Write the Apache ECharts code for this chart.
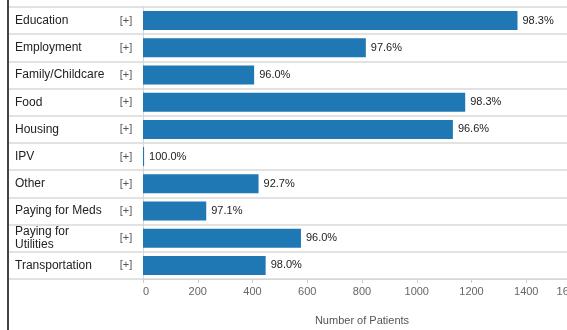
<!DOCTYPE html>
<html>
<head>
<meta charset="utf-8">
<script src="https://cdn.jsdelivr.net/npm/echarts@6/dist/echarts.min.js"></script>
<style>
  html, body { margin: 0; padding: 0; background: #fff; }
  #wrap { position: relative; width: 567px; height: 330px; overflow: hidden; }
  #chart { position: absolute; left: 0; top: 0; width: 567px; height: 330px; }
  #frame { position: absolute; left: 7px; top: 0; width: 2px; height: 330px; background: #444; }
</style>
</head>
<body>
<div id="wrap">
  <div id="chart"></div>
  <div id="frame"></div>
</div>
<script>
const categories = ["Education", "Employment", "Family/Childcare", "Food", "Housing", "IPV", "Other", "Paying for Meds", "Paying for Utilities", "Transportation"];
const patients = [1368, 814, 406, 1177, 1132, 4, 422, 231, 577, 448];
const percentLabels = ["98.3%", "97.6%", "96.0%", "98.3%", "96.6%", "100.0%", "92.7%", "97.1%", "96.0%", "98.0%"];
const xTicks = { min: 0, max: 1600, interval: 200 };
const axisName = "Number of Patients";
const expandMark = "[+]";

const font = "Arial, 'Liberation Sans', sans-serif";
const chart = echarts.init(document.getElementById('chart'), null, { renderer: 'canvas' });

chart.setOption({
  animation: false,
  backgroundColor: '#fff',
  textStyle: { fontFamily: font },
  grid: [
    { left: 143, top: 7, height: 272, width: 438, containLabel: false, outerBoundsMode: 'none' },
    { left: 8, top: 7, height: 272, right: 0, containLabel: false, outerBoundsMode: 'none' }
  ],
  xAxis: [
    {
      gridIndex: 0,
      type: 'value',
      min: xTicks.min, max: xTicks.max, interval: xTicks.interval,
      name: axisName,
      nameLocation: 'middle',
      nameGap: 36,
      nameTextStyle: { color: '#555', fontSize: 11, fontFamily: font },
      axisLine: { show: true, lineStyle: { color: '#d6d6d6', width: 1 } },
      axisTick: { show: true, length: 4, lineStyle: { color: '#ccc' } },
      axisLabel: {
        color: '#666', fontSize: 11, margin: 7, fontFamily: font,
        showMinLabel: true, showMaxLabel: true,
        alignMinLabel: 'left', alignMaxLabel: 'right',
        hideOverlap: false,
        formatter: (v) => String(v)
      },
      splitLine: { show: false }
    },
    {
      gridIndex: 1,
      type: 'value',
      show: false
    }
  ],
  yAxis: [
    {
      gridIndex: 0,
      type: 'category',
      data: categories,
      inverse: true,
      position: 'left',
      axisLine: { show: true, lineStyle: { color: '#d6d6d6', width: 1 } },
      axisTick: { show: false },
      splitLine: { show: false },
      axisLabel: {
        align: 'left',
        margin: 128,
        width: 92,
        overflow: 'break',
        color: '#222',
        fontSize: 12,
        lineHeight: 13,
        fontFamily: font
      }
    },
    {
      gridIndex: 0,
      type: 'category',
      data: categories,
      inverse: true,
      position: 'left',
      axisLine: { show: false },
      axisTick: { show: false },
      splitLine: { show: false },
      axisLabel: {
        align: 'center',
        margin: 17,
        color: '#555',
        fontSize: 11,
        fontFamily: font,
        formatter: () => expandMark
      }
    },
    {
      gridIndex: 1,
      type: 'category',
      data: categories,
      inverse: true,
      axisLine: { show: false },
      axisTick: { show: false },
      axisLabel: { show: false },
      splitLine: { show: true, lineStyle: { color: '#e2e2e2', width: 2 } }
    }
  ],
  series: [
    {
      type: 'bar',
      xAxisIndex: 0,
      yAxisIndex: 0,
      data: patients,
      barWidth: 19,
      z: 3,
      itemStyle: { color: '#1f77b4' },
      label: {
        show: true,
        position: 'right',
        distance: 5,
        color: '#222',
        fontSize: 11,
        fontFamily: font,
        formatter: (p) => percentLabels[p.dataIndex]
      }
    }
  ]
});
</script>
</body>
</html>
